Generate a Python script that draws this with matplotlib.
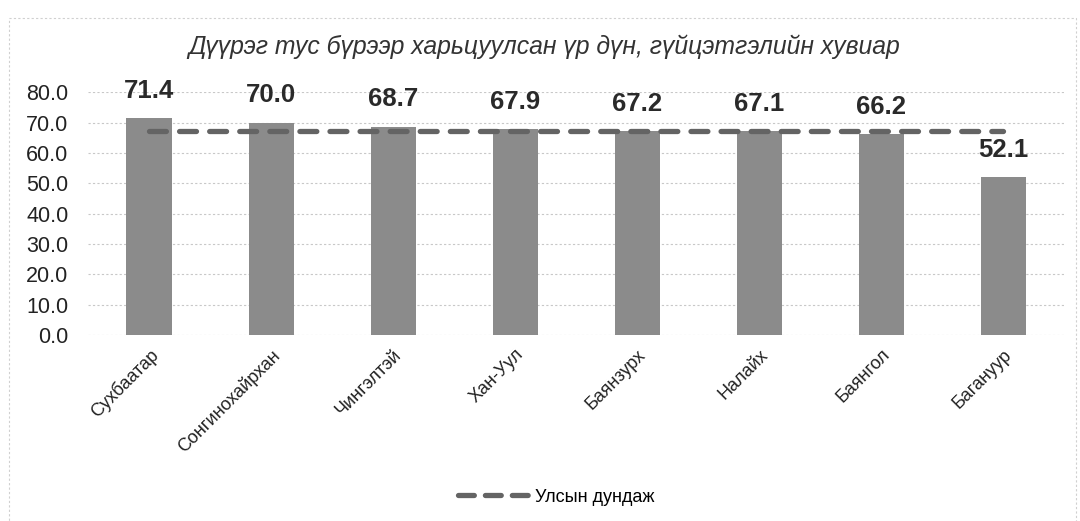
import matplotlib.pyplot as plt
from matplotlib.lines import Line2D
from matplotlib.patches import Rectangle

# data
districts = ['Сухбаатар', 'Сонгинохайрхан', 'Чингэлтэй', 'Хан-Уул',
             'Баянзурх', 'Налайх', 'Баянгол', 'Багануур']
scores = [71.4, 70.0, 68.7, 67.9, 67.2, 67.1, 66.2, 52.1]
national_avg = [67.3] * len(districts)
yticks = [0, 10, 20, 30, 40, 50, 60, 70, 80]

title = 'Дүүрэг тус бүрээр харьцуулсан үр дүн, гүйцэтгэлийн хувиар'
legend_label = 'Улсын дундаж'

plt.rcParams['font.family'] = ['Liberation Sans', 'DejaVu Sans']

fig = plt.figure(figsize=(10.8, 5.21), dpi=100)
ax = fig.add_axes([0.0815, 0.357, 0.904, 0.466])

x = range(len(districts))
bars = ax.bar(x, scores, width=0.37, color='#8b8b8b', zorder=2)
ax.plot(x, national_avg, color='#646464', lw=3.8,
        dashes=(3.2, 2.5), dash_capstyle='round', zorder=3)

# value labels above bars
for xi, v in zip(x, scores):
    ax.text(xi, v + 5.0, f'{v:.1f}', ha='center', va='bottom',
            fontsize=18.5, fontweight='bold', color='#2a2a2a', zorder=4)

ax.set_xlim(-0.5, len(districts) - 0.5)
ax.set_ylim(0, 80)
ax.set_yticks(yticks)
ax.set_yticklabels([f'{t:.1f}' for t in yticks], fontsize=15.5, color='#222222')
ax.set_xticks(list(x))
ax.set_xticklabels(districts, rotation=45, ha='right', rotation_mode='anchor',
                   fontsize=13, color='#222222')
ax.tick_params(axis='y', length=0, pad=14)
ax.tick_params(axis='x', length=0, pad=8)
ax.grid(axis='y', color='#c8c8c8', linestyle=(0, (2, 2)), lw=0.8, zorder=0)
for s in ax.spines.values():
    s.set_visible(False)

fig.text(0.504, 0.91, title, ha='center', va='center', fontsize=17.8,
         style='italic', color='#333333')

# legend handle with shorter dashes, like the reference
proxy = Line2D([], [], color='#646464', lw=3.8, dashes=(3.0, 2.1),
               dash_capstyle='round')
fig.legend(handles=[proxy], labels=[legend_label], loc='center',
           bbox_to_anchor=(0.515, 0.046), frameon=False, fontsize=13,
           handlelength=3.9, handletextpad=0.35)

# faint border around the chart
fig.patches.append(Rectangle((0.008, -0.02), 0.988, 0.985, transform=fig.transFigure,
                             fill=False, edgecolor='#d0d0d0', lw=0.8,
                             linestyle=(0, (2, 2))))

fig.savefig('out.png', dpi=100, facecolor='white')
